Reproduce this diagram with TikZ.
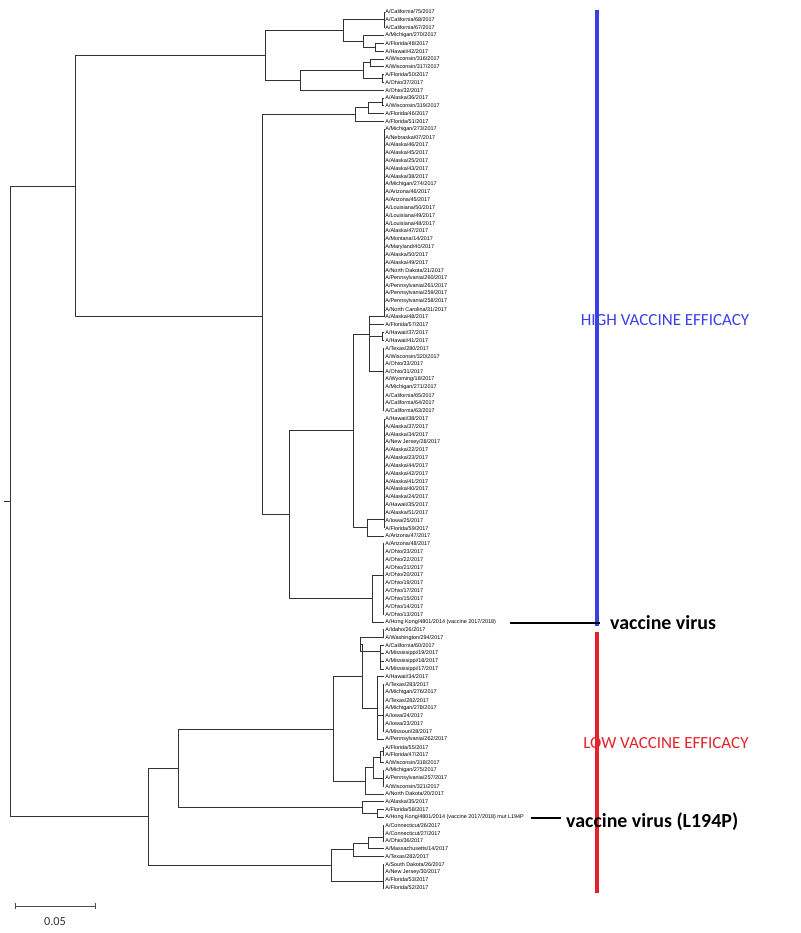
\documentclass[tikz,border=0pt]{standalone}
\usepackage{fontspec}
\setmainfont{Liberation Sans}
\newfontfamily\calib{Carlito}
\usepackage{xcolor}
\usetikzlibrary{positioning,calc}
\definecolor{hiblue}{HTML}{3B3FE6}
\definecolor{lored}{HTML}{E3222B}

\begin{document}
\begin{tikzpicture}[
  x=0.03cm, y=-0.03cm,
  leaf/.style={anchor=west, inner sep=1pt, font=\fontsize{4.65}{5.5}\selectfont},
  br/.style={black!80, line width=0.6pt},
  bar/.style={line width=3.4pt},
  tag/.style={font=\calib\fontsize{17}{19}\selectfont\bfseries, anchor=west, inner sep=0pt},
  grp/.style={font=\calib\fontsize{14.5}{16}\selectfont, inner sep=0pt}
]
\useasboundingbox (0,0) rectangle (800,933);

% =============== leaves ===============
\foreach \lab [count=\i] in {A/California/75/2017, A/California/68/2017, A/California/67/2017,
  A/Michigan/270/2017, A/Florida/48/2017, A/Hawaii/42/2017, A/Wisconsin/316/2017,
  A/Wisconsin/317/2017, A/Florida/50/2017, A/Ohio/37/2017, A/Ohio/32/2017, A/Alaska/36/2017,
  A/Wisconsin/319/2017, A/Florida/46/2017, A/Florida/51/2017, A/Michigan/273/2017,
  A/Nebraska/07/2017, A/Alaska/46/2017, A/Alaska/45/2017, A/Alaska/25/2017, A/Alaska/43/2017,
  A/Alaska/38/2017, A/Michigan/274/2017, A/Arizona/46/2017, A/Arizona/45/2017,
  A/Louisiana/50/2017, A/Louisiana/49/2017, A/Louisiana/48/2017, A/Alaska/47/2017,
  A/Montana/14/2017, A/Maryland/40/2017, A/Alaska/50/2017, A/Alaska/49/2017,
  A/North Dakota/21/2017, A/Pennsylvania/260/2017, A/Pennsylvania/261/2017,
  A/Pennsylvania/259/2017, A/Pennsylvania/258/2017, A/North Carolina/31/2017,
  A/Alaska/48/2017, A/Florida/57/2017, A/Hawaii/37/2017, A/Hawaii/41/2017, A/Texas/280/2017,
  A/Wisconsin/320/2017, A/Ohio/33/2017, A/Ohio/31/2017, A/Wyoming/18/2017,
  A/Michigan/271/2017, A/California/65/2017, A/California/64/2017, A/California/63/2017,
  A/Hawaii/38/2017, A/Alaska/37/2017, A/Alaska/34/2017, A/New Jersey/28/2017,
  A/Alaska/22/2017, A/Alaska/23/2017, A/Alaska/44/2017, A/Alaska/42/2017, A/Alaska/41/2017,
  A/Alaska/40/2017, A/Alaska/24/2017, A/Hawaii/35/2017, A/Alaska/51/2017, A/Iowa/25/2017,
  A/Florida/59/2017, A/Arizona/47/2017, A/Arizona/48/2017, A/Ohio/23/2017, A/Ohio/22/2017,
  A/Ohio/21/2017, A/Ohio/20/2017, A/Ohio/19/2017, A/Ohio/17/2017, A/Ohio/15/2017,
  A/Ohio/14/2017, A/Ohio/13/2017, {A/Hong Kong/4801/2014 (vaccine 2017/2018)},
  A/Idaho/26/2017, A/Washington/294/2017, A/California/60/2017, A/Mississippi/19/2017,
  A/Mississippi/18/2017, A/Mississippi/17/2017, A/Hawaii/34/2017, A/Texas/283/2017,
  A/Michigan/276/2017, A/Texas/282/2017, A/Michigan/278/2017, A/Iowa/24/2017,
  A/Iowa/23/2017, A/Missouri/28/2017, A/Pennsylvania/262/2017, A/Florida/55/2017,
  A/Florida/47/2017, A/Wisconsin/318/2017, A/Michigan/275/2017, A/Pennsylvania/257/2017,
  A/Wisconsin/321/2017, A/North Dakota/20/2017, A/Alaska/35/2017, A/Florida/58/2017,
  {A/Hong Kong/4801/2014 (vaccine 2017/2018) mut L194P}, A/Connecticut/26/2017,
  A/Connecticut/27/2017, A/Ohio/36/2017, A/Massachusetts/14/2017, A/Texas/282/2017,
  A/South Dakota/26/2017, A/New Jersey/30/2017, A/Florida/53/2017, A/Florida/52/2017}
  \node[leaf] (l\i) at (384,{12+(\i-1)*7.82}) {\lab};

% =============== upper clade ===============
\coordinate (c1) at (384,19.8);
\coordinate (n3) at (375,47.2);
\coordinate (n2) at (363,41.4);
\coordinate (n1) at (343,30.6);
\coordinate (n6) at (370,62.8);
\coordinate (n7) at (382,78.5);
\coordinate (n5) at (363,70.7);
\coordinate (n4) at (300,80.4);
\coordinate (n0) at (265,55.5);
\coordinate (p2) at (382,101.9);
\coordinate (p1) at (368,107.8);
\coordinate (p0) at (355,114.6);
\coordinate (a0) at (384,316);
\coordinate (a1) at (382,336.5);
\coordinate (a2) at (383,371);
\coordinate (m1) at (369,334);
\coordinate (a3) at (384,519);
\coordinate (m2) at (367,527);
\coordinate (m0) at (353,430);
\coordinate (a4) at (383,575);
\coordinate (h1) at (372,598.5);
\coordinate (m3) at (289,514);
\coordinate (t2) at (262,316);
\coordinate (tp) at (75,186);

\foreach \c in {l1,l2,l3} \draw[br] (c1) |- (\c.west);
\foreach \c in {l5,l6} \draw[br] (n3) |- (\c.west);
\draw[br] (n2) |- (l4.west);  \draw[br] (n2) |- (n3);
\draw[br] (n1) |- (c1);       \draw[br] (n1) |- (n2);
\foreach \c in {l7,l8} \draw[br] (n6) |- (\c.west);
\foreach \c in {l9,l10} \draw[br] (n7) |- (\c.west);
\draw[br] (n5) |- (n6);       \draw[br] (n5) |- (n7);
\draw[br] (n4) |- (n5);       \draw[br] (n4) |- (l11.west);
\draw[br] (n0) |- (n1);       \draw[br] (n0) |- (n4);
\foreach \c in {l12,l13} \draw[br] (p2) |- (\c.west);
\draw[br] (p1) |- (p2);       \draw[br] (p1) |- (l14.west);
\draw[br] (p0) |- (p1);       \draw[br] (p0) |- (l15.west);
\foreach \i in {16,...,40} \draw[br] (a0) |- (l\i.west);
\foreach \c in {l42,l43} \draw[br] (a1) |- (\c.west);
\foreach \i in {44,...,52} \draw[br] (a2) |- (l\i.west);
\draw[br] (m1) |- (a0);  \draw[br] (m1) |- (l41.west);
\draw[br] (m1) |- (a1);  \draw[br] (m1) |- (a2);
\foreach \i in {53,...,67} \draw[br] (a3) |- (l\i.west);
\draw[br] (m2) |- (a3);  \draw[br] (m2) |- (l68.west);
\draw[br] (m0) |- (m1);  \draw[br] (m0) |- (m2);
\foreach \i in {69,...,78} \draw[br] (a4) |- (l\i.west);
\draw[br] (h1) |- (a4);  \draw[br] (h1) |- (l79.west);
\draw[br] (m3) |- (m0);  \draw[br] (m3) |- (h1);
\draw[br] (t2) |- (p0);  \draw[br] (t2) |- (m3);
\draw[br] (tp) |- (n0);  \draw[br] (tp) |- (t2);

% =============== lower clade ===============
\coordinate (e1) at (383,637.6);
\coordinate (e2) at (380,651);
\coordinate (b1) at (360,644.3);
\coordinate (b2) at (383,715);
\coordinate (b3) at (377,708);
\coordinate (b4) at (362,676.5);
\coordinate (b5) at (383,751);
\coordinate (b6) at (380,757);
\coordinate (b7) at (383,778.4);
\coordinate (b8) at (373,767.7);
\coordinate (b9) at (365,781);
\coordinate (b10) at (333,729);
\coordinate (zp) at (377,813.5);
\coordinate (yp) at (362,807.7);
\coordinate (b12) at (178,768);
\coordinate (d0) at (383,837);
\coordinate (d1) at (368,843);
\coordinate (d2) at (353,849.5);
\coordinate (d3) at (383,881);
\coordinate (d4) at (331,865);
\coordinate (bt) at (148,816.5);
\coordinate (rt) at (10,501);

\foreach \c in {l80,l81} \draw[br] (e1) |- (\c.west);
\foreach \i in {82,...,85} \draw[br] (e2) |- (l\i.west);
\draw[br] (b1) |- (e1);  \draw[br] (b1) |- (e2);
\foreach \i in {87,...,93} \draw[br] (b2) |- (l\i.west);
\draw[br] (b3) |- (l86.west);  \draw[br] (b3) |- (b2);  \draw[br] (b3) |- (l94.west);
\draw[br] (b4) |- (b1);  \draw[br] (b4) |- (b3);
\foreach \c in {l95,l96} \draw[br] (b5) |- (\c.west);
\draw[br] (b6) |- (b5);  \draw[br] (b6) |- (l97.west);
\foreach \i in {98,99,100} \draw[br] (b7) |- (l\i.west);
\draw[br] (b8) |- (b6);  \draw[br] (b8) |- (b7);
\draw[br] (b9) |- (b8);  \draw[br] (b9) |- (l101.west);
\draw[br] (b10) |- (b4); \draw[br] (b10) |- (b9);
\draw[br] (zp) |- (l103.west); \draw[br] (zp) |- (l104.west);
\draw[br] (yp) |- (l102.west); \draw[br] (yp) |- (zp);
\draw[br] (b12) |- (b10); \draw[br] (b12) |- (yp);
\foreach \i in {105,106,107} \draw[br] (d0) |- (l\i.west);
\draw[br] (d1) |- (d0);  \draw[br] (d1) |- (l108.west);
\draw[br] (d2) |- (d1);  \draw[br] (d2) |- (l109.west);
\foreach \i in {110,...,113} \draw[br] (d3) |- (l\i.west);
\draw[br] (d4) |- (d2);  \draw[br] (d4) |- (d3);
\draw[br] (bt) |- (b12); \draw[br] (bt) |- (d4);
\draw[br] (rt) |- (tp);  \draw[br] (rt) |- (bt);
\coordinate (rs) at (4,501);
\draw[br] (rs) -- (rt);

% =============== efficacy bars ===============
\coordinate (hb0) at (597,10);
\coordinate (hb1) at (597,626);
\coordinate (lb0) at (597,632);
\coordinate (lb1) at (597,893);
\draw[bar, hiblue] (hb0) -- (hb1);
\draw[bar, lored] (lb0) -- (lb1);
\node[grp, text=hiblue] (hi) at (665,320) {HIGH VACCINE EFFICACY};
\node[grp, text=lored] (lo) at (666,743) {LOW VACCINE EFFICACY};

\node[tag] (vv) at (610,623) {vaccine virus};
\node[tag] (vm) at (566,822) {vaccine virus (L194P)};
\coordinate (vv0) at (510,623);
\coordinate (vv1) at (600,623);
\coordinate (vm0) at (531,818);
\coordinate (vm1) at (561,818);
\draw[line width=1.6pt] (vv0) -- (vv1);
\draw[line width=1.6pt] (vm0) -- (vm1);

% =============== scale ===============
\coordinate (s0) at (15,906);
\coordinate (s1) at (95,906);
\draw[black!70, line width=0.7pt] (s0) -- (s1);
\draw[black!70, line width=0.7pt] ($(s0)+(0,-3)$) -- ($(s0)+(0,3)$);
\draw[black!70, line width=0.7pt] ($(s1)+(0,-3)$) -- ($(s1)+(0,3)$);
\node[font=\calib\fontsize{10.5}{12}\selectfont, black!80] (sl) at (55,922) {0.05};
\end{tikzpicture}
\end{document}
